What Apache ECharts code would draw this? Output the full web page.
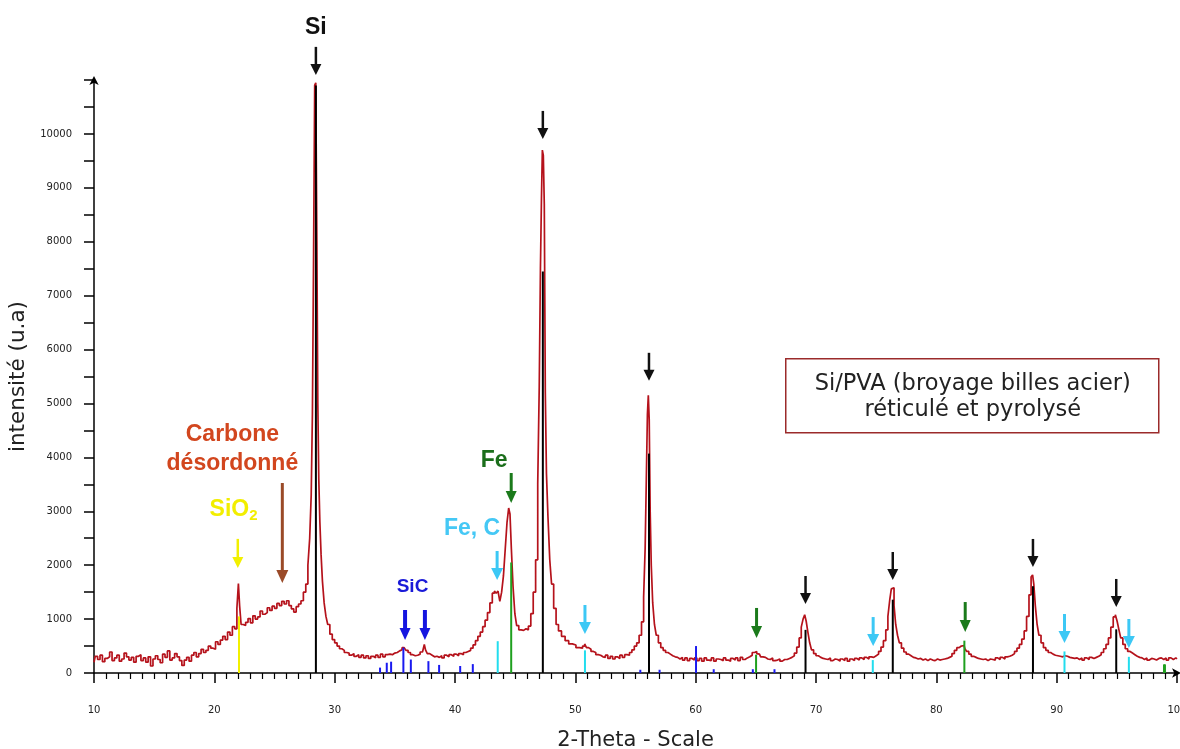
<!DOCTYPE html>
<html>
<head>
<meta charset="utf-8">
<script src="https://cdn.jsdelivr.net/npm/echarts@6/dist/echarts.min.js"></script>
<style>
html,body{margin:0;padding:0;background:#fff;overflow:hidden;}
#chart{width:1180px;height:749px;}
</style>
</head>
<body>
<div id="chart"></div>
<script>
// ---- measured XRD scan: [2-theta, intensity] ----
const xrdScan = [
[10.0,200],[10.2,310],[10.4,250],[10.6,330],[10.8,210],[11.0,270],[11.2,300],[11.4,390],[11.6,230],[11.8,280],
[12.0,330],[12.2,220],[12.4,260],[12.6,370],[12.8,300],[13.0,240],[13.2,290],[13.4,200],[13.6,310],[13.8,340],
[14.0,230],[14.2,280],[14.4,200],[14.6,300],[14.8,130],[15.0,260],[15.2,320],[15.4,250],[15.6,190],[15.8,350],
[16.0,290],[16.2,410],[16.4,240],[16.6,280],[16.8,360],[17.0,300],[17.2,230],[17.4,140],[17.6,240],[17.8,290],
[18.0,220],[18.2,330],[18.4,380],[18.6,300],[18.8,360],[19.0,440],[19.2,380],[19.4,420],[19.6,500],[19.8,460],
[20.0,440],[20.2,580],[20.4,530],[20.6,610],[20.8,680],[21.0,620],[21.2,760],[21.4,700],[21.6,860],[21.8,820],
[21.95,1200],[22.05,1660],[22.15,1250],[22.3,900],[22.5,880],[22.7,940],[22.9,1010],[23.1,930],[23.3,1060],[23.5,1000],
[23.7,1040],[23.9,1150],[24.1,1090],[24.3,1120],[24.5,1210],[24.7,1160],[24.9,1240],[25.1,1200],[25.3,1290],[25.5,1250],
[25.7,1330],[25.9,1280],[26.1,1340],[26.3,1250],[26.5,1190],[26.7,1130],[26.9,1230],[27.1,1280],[27.3,1340],[27.5,1500],
[27.7,1650],[27.85,2000],[28.0,2500],[28.1,3300],[28.2,4800],[28.3,7800],[28.38,10900],[28.48,10950],[28.56,8000],[28.64,5000],
[28.72,3600],[28.82,2800],[28.92,2200],[29.05,1700],[29.2,1300],[29.35,1050],[29.5,900],[29.7,720],[29.9,620],[30.1,560],
[30.3,500],[30.5,450],[30.7,420],[30.9,380],[31.1,370],[31.3,330],[31.5,360],[31.7,310],[31.9,340],[32.1,290],
[32.3,330],[32.5,280],[32.7,320],[32.9,270],[33.1,310],[33.3,280],[33.5,330],[33.7,290],[33.9,350],[34.1,300],
[34.3,340],[34.5,350],[34.7,340],[34.9,370],[35.1,380],[35.3,410],[35.5,430],[35.7,470],[35.85,460],[36.0,420],
[36.2,380],[36.4,340],[36.6,320],[36.8,330],[37.0,350],[37.2,390],[37.4,420],[37.5,530],[37.6,430],[37.8,360],
[38.0,330],[38.2,300],[38.4,310],[38.6,290],[38.8,320],[39.0,280],[39.2,330],[39.4,300],[39.6,340],[39.8,310],
[40.0,350],[40.2,320],[40.4,360],[40.6,340],[40.8,380],[41.0,400],[41.2,420],[41.4,460],[41.6,520],[41.8,600],
[42.0,680],[42.2,760],[42.4,860],[42.6,980],[42.8,1120],[43.0,1300],[43.2,1480],[43.35,1520],[43.5,1480],[43.65,1520],
[43.8,1330],[43.95,1500],[44.1,1800],[44.25,2300],[44.4,2800],[44.52,3060],[44.62,2950],[44.75,2300],[44.9,1600],[45.05,1100],
[45.2,880],[45.4,800],[45.6,790],[45.8,820],[46.0,800],[46.2,870],[46.4,1100],[46.6,1500],[46.8,2100],[46.95,3500],
[47.05,5300],[47.15,7500],[47.22,8800],[47.3,9700],[47.38,9600],[47.46,8700],[47.55,5200],[47.65,3700],[47.8,2900],[47.95,2100],
[48.1,1650],[48.3,1200],[48.5,900],[48.7,780],[49.0,680],[49.3,600],[49.6,540],[49.9,520],[50.2,470],[50.5,460],
[50.7,500],[50.85,540],[51.0,470],[51.2,440],[51.4,400],[51.6,380],[51.8,340],[52.0,330],[52.2,300],[52.4,290],
[52.6,330],[52.8,270],[53.0,310],[53.2,260],[53.4,300],[53.6,270],[53.8,330],[54.0,290],[54.2,340],[54.4,330],
[54.6,380],[54.8,430],[55.0,500],[55.2,560],[55.4,700],[55.6,950],[55.75,1400],[55.85,2300],[55.95,3600],[56.03,4800],
[56.1,5150],[56.18,4700],[56.26,3000],[56.36,2000],[56.5,1300],[56.65,900],[56.8,700],[57.0,560],[57.2,470],[57.4,420],
[57.6,380],[57.8,350],[58.0,320],[58.2,300],[58.4,290],[58.6,260],[58.8,290],[59.0,240],[59.2,280],[59.4,230],
[59.6,270],[59.8,240],[60.0,280],[60.2,230],[60.4,270],[60.6,220],[60.8,280],[61.0,240],[61.2,230],[61.4,280],
[61.6,220],[61.8,260],[62.0,250],[62.2,230],[62.4,280],[62.6,240],[62.8,220],[63.0,270],[63.2,240],[63.4,280],
[63.6,230],[63.8,290],[64.0,250],[64.2,280],[64.4,300],[64.6,330],[64.8,380],[65.0,400],[65.15,360],[65.3,350],
[65.5,300],[65.7,290],[65.9,260],[66.1,250],[66.3,280],[66.5,230],[66.7,240],[66.9,260],[67.1,220],[67.3,250],
[67.5,250],[67.7,270],[67.9,290],[68.1,320],[68.3,370],[68.5,480],[68.7,650],[68.85,850],[69.0,1000],[69.12,1080],
[69.25,960],[69.4,760],[69.55,560],[69.7,430],[69.9,360],[70.1,320],[70.3,290],[70.5,270],[70.7,260],[70.9,250],
[71.1,280],[71.3,230],[71.5,260],[71.7,250],[71.9,220],[72.1,260],[72.3,230],[72.5,270],[72.7,220],[72.9,260],
[73.1,230],[73.3,270],[73.5,240],[73.7,280],[73.9,250],[74.1,290],[74.3,260],[74.5,300],[74.7,290],[74.9,320],
[75.1,350],[75.3,400],[75.5,480],[75.7,600],[75.9,800],[76.05,1050],[76.2,1350],[76.32,1560],[76.42,1580],[76.55,1250],
[76.7,900],[76.85,700],[77.0,560],[77.2,460],[77.4,390],[77.6,350],[77.8,320],[78.0,290],[78.2,280],[78.4,260],
[78.6,270],[78.8,240],[79.0,260],[79.2,230],[79.4,260],[79.6,240],[79.8,230],[80.0,260],[80.2,240],[80.4,250],
[80.6,260],[80.8,270],[81.0,290],[81.2,310],[81.4,360],[81.6,420],[81.8,470],[82.0,500],[82.15,530],[82.3,510],
[82.45,450],[82.6,400],[82.8,350],[83.0,310],[83.2,290],[83.4,270],[83.6,260],[83.8,250],[84.0,260],[84.2,230],
[84.4,260],[84.6,250],[84.8,240],[85.0,280],[85.2,250],[85.4,290],[85.6,260],[85.8,300],[86.0,310],[86.2,330],
[86.4,360],[86.6,400],[86.8,460],[87.0,530],[87.2,630],[87.4,780],[87.6,1050],[87.8,1450],[87.95,1780],[88.05,1820],
[88.15,1650],[88.3,1250],[88.45,900],[88.6,700],[88.8,560],[89.0,470],[89.2,420],[89.4,380],[89.6,350],[89.8,330],
[90.0,320],[90.2,310],[90.4,300],[90.6,320],[90.8,310],[91.0,290],[91.2,280],[91.4,270],[91.6,280],[91.8,250],
[92.0,280],[92.2,240],[92.4,280],[92.6,250],[92.8,290],[93.0,270],[93.2,290],[93.4,310],[93.6,340],[93.8,380],
[94.0,450],[94.2,530],[94.4,650],[94.6,850],[94.8,1040],[94.95,1080],[95.1,960],[95.25,800],[95.4,650],[95.6,530],
[95.8,450],[96.0,400],[96.2,370],[96.4,340],[96.6,310],[96.8,290],[97.0,280],[97.2,250],[97.4,280],[97.6,240],
[97.8,270],[98.0,260],[98.2,240],[98.4,270],[98.6,280],[98.8,250],[99.0,280],[99.2,240],[99.4,280],[99.6,250],
[99.8,280],[100.0,260]
];

// ---- reference stick patterns: [2-theta, height] ----
const siSticks   = [[28.44,10900],[47.30,7450],[56.12,4070],[69.13,800],[76.38,1360],[88.03,1610],[94.95,810]];
const sio2Sticks = [[22.05,1050]];
const feSticks   = [[44.67,2050],[65.02,340],[82.33,600],[98.92,160],[99.0,160]];
const feCSticks  = [[43.55,590],[50.8,420],[74.72,240],[90.65,400],[96.0,300]];
const sicSticks  = [[33.77,100],[34.33,190],[34.69,210],[35.71,470],[36.33,250],[37.79,220],[38.68,150],[40.43,130],[41.48,165],[55.4,60],[57.0,60],[60.03,500],[61.5,70],[64.75,70],[66.55,70]];

// ---- arrow tips: [2-theta, intensity] ----
const siArrows     = [[28.44,11095],[47.30,9907],[56.12,5420],[69.13,1280],[76.38,1725],[88.03,1967],[94.95,1225]];
const feArrows     = [[44.67,3154],[65.06,650],[82.4,760]];
const feCArrows    = [[43.5,1725],[50.8,724],[74.75,500],[90.65,556],[96.0,464]];
const sicArrows    = [[35.85,612],[37.5,612]];
const sio2Arrows   = [[21.95,1950]];
const carbonArrows = [[25.65,1670]];

// ---- annotation labels: text and anchor [2-theta, intensity] ----
const labelTexts   = ['Si', 'Carbone\ndésordonné', '{m|SiO}{s|2}', 'Fe', 'Fe, C', 'SiC'];
const labelAnchors = [[28.44,11967],[21.5,4147],[21.6,3024],[43.25,3933],[41.42,2672],[36.47,1596]];

// ---- axis ticks ----
const xTicks = {min:10, max:100, step:10};
const yTicks = {min:0, max:11000, step:1000};
const legendLines = ['Si/PVA (broyage billes acier)', 'réticulé et pyrolysé'];

const chart = echarts.init(document.getElementById('chart'), null, {renderer:'canvas'});

function stickSeries(data, color, width){
  return {
    type:'custom', data:data, z:5, clip:false, silent:true,
    renderItem:function(params, api){
      const x = api.value(0), h = api.value(1);
      const p0 = api.coord([x,0]), p1 = api.coord([x,h]);
      return {type:'line', shape:{x1:p0[0],y1:p0[1],x2:p1[0],y2:p1[1]},
              style:{stroke:color, lineWidth:width}};
    }
  };
}
function arrowSeries(data, color, len, headH, headW, shaftW){
  return {
    type:'custom', data:data, z:6, clip:false, silent:true,
    renderItem:function(params, api){
      const p = api.coord([api.value(0), api.value(1)]);
      return {type:'group', children:[
        {type:'line', shape:{x1:p[0],y1:p[1]-len,x2:p[0],y2:p[1]-headH+1},
         style:{stroke:color, lineWidth:shaftW}},
        {type:'polygon', shape:{points:[[p[0]-headW/2,p[1]-headH],[p[0]+headW/2,p[1]-headH],[p[0],p[1]]]},
         style:{fill:color}}
      ]};
    }
  };
}

const labelStyles = [
  {color:'#111111', fontSize:23},
  {color:'#D2461E', fontSize:23, lineHeight:29},
  {color:'#F2EE00', fontSize:23},
  {color:'#1B6E1B', fontSize:23},
  {color:'#45C8F5', fontSize:23},
  {color:'#1A1AD8', fontSize:19}
];

const labelData = labelAnchors.map(function(a,i){
  const st = labelStyles[i];
  const lab = {show:true, position:'inside', formatter:labelTexts[i], color:st.color,
    fontSize:st.fontSize, fontWeight:'bold', fontFamily:'Liberation Sans, Arial, sans-serif', align:'center', verticalAlign:'middle'};
  if (st.lineHeight) lab.lineHeight = st.lineHeight;
  if (i === 2) {
    lab.rich = {
      m:{color:st.color, fontSize:23, fontWeight:'bold', fontFamily:'Liberation Sans, Arial, sans-serif'},
      s:{color:st.color, fontSize:15, fontWeight:'bold', fontFamily:'Liberation Sans, Arial, sans-serif', padding:[12,0,0,0]}
    };
  }
  return {value:a, label:lab, itemStyle:{opacity:1}};
});

const option = {
  backgroundColor:'#ffffff',
  animation:false,
  grid:{left:94, right:3, top:80, bottom:76, containLabel:false, outerBoundsMode:'none'},
  xAxis:{
    type:'value', min:xTicks.min, max:xTicks.max, interval:xTicks.step,
    name:'2-Theta - Scale', nameLocation:'middle', nameGap:57,
    nameTextStyle:{fontFamily:'DejaVu Sans', fontSize:21, color:'#222'},
    axisLine:{show:true, lineStyle:{color:'#000', width:1.5}, symbol:['none','arrow'], symbolSize:[7,9], symbolOffset:[0,4]},
    axisTick:{show:true, length:10, lineStyle:{color:'#000', width:1.5}},
    minorTick:{show:true, splitNumber:10, length:6, lineStyle:{color:'#000', width:1.2}},
    axisLabel:{margin:32, fontFamily:'DejaVu Sans', fontSize:10, color:'#222', showMaxLabel:true, hideOverlap:false},
    splitLine:{show:false}
  },
  yAxis:{
    type:'value', min:yTicks.min, max:yTicks.max, interval:yTicks.step,
    name:'intensité (u.a)', nameLocation:'middle', nameGap:60, nameRotate:90,
    nameTextStyle:{fontFamily:'DejaVu Sans', fontSize:21.5, color:'#222'},
    axisLine:{show:true, lineStyle:{color:'#000', width:1.5}, symbol:['none','arrow'], symbolSize:[7,9], symbolOffset:[0,4]},
    axisTick:{show:true, length:10, lineStyle:{color:'#000', width:1.5}},
    minorTick:{show:true, splitNumber:2, length:10, lineStyle:{color:'#000', width:1.5}},
    axisLabel:{margin:22, fontFamily:'DejaVu Sans', fontSize:10, color:'#222',
      formatter:function(v){ return v > 10000 ? '' : String(v); }},
    splitLine:{show:false}
  },
  series:[
    {type:'line', data:xrdScan, showSymbol:false, symbol:'none', clip:false, z:3, step:'middle',
     lineStyle:{color:'#B5121B', width:1.7}, silent:true},
    stickSeries(siSticks, '#000000', 2),
    stickSeries(sio2Sticks, '#F2F000', 2),
    stickSeries(feSticks, '#1FA01F', 2),
    stickSeries(feCSticks, '#22DDEE', 2),
    stickSeries(sicSticks, '#1A1AF0', 2),
    arrowSeries(siArrows, '#111111', 28, 11, 11, 2.5),
    arrowSeries(feArrows, '#1B7A1B', 30, 12, 11, 3),
    arrowSeries(feCArrows, '#3CC8F5', 29, 12, 12, 3),
    arrowSeries(sicArrows, '#1515E0', 30, 12, 11, 4),
    arrowSeries(sio2Arrows, '#F2F000', 29, 11, 11, 2.5),
    arrowSeries(carbonArrows, '#9A4A28', 100, 13, 12, 3),
    {type:'scatter', data:labelData, symbolSize:0, clip:false, z:7, silent:true, itemStyle:{opacity:1}}
  ],
  graphic:[{
    type:'group', left:785, top:358,
    children:[
      {type:'rect', shape:{x:0, y:0, width:373, height:74},
       style:{fill:'#fff', stroke:'#9B2B2B', lineWidth:1.5}},
      {type:'text', style:{x:187, y:25, text:legendLines[0], align:'center', verticalAlign:'middle',
        font:'22.5px "DejaVu Sans"', fill:'#222'}},
      {type:'text', style:{x:187, y:51, text:legendLines[1], align:'center', verticalAlign:'middle',
        font:'22.5px "DejaVu Sans"', fill:'#222'}}
    ]
  }]
};
chart.setOption(option);
</script>
</body>
</html>
